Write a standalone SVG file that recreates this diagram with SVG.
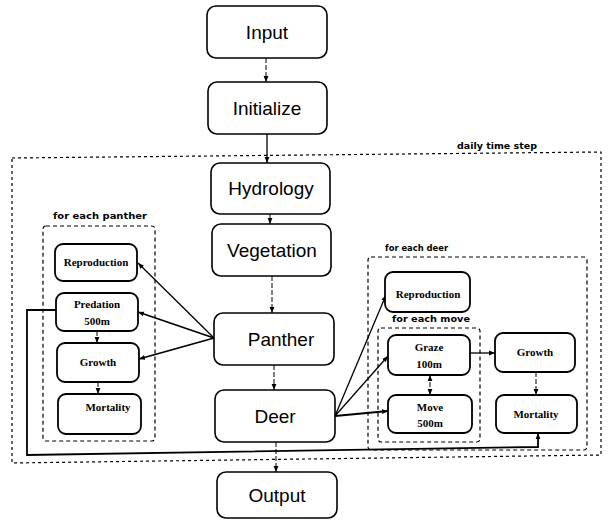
<svg xmlns="http://www.w3.org/2000/svg" width="609" height="521" viewBox="0 0 609 521">
<defs>
<marker id="ah" viewBox="0 0 10 10" refX="10" refY="5" markerWidth="6" markerHeight="6" orient="auto-start-reverse" markerUnits="userSpaceOnUse">
<path d="M0,1 L10,5 L0,9 z" fill="#000"/>
</marker>
</defs>
<style>
.box{fill:#fff;stroke:#000;stroke-width:1.6}
.sbox{fill:#fff;stroke:#000;stroke-width:1.8}
.main{font-family:"Liberation Sans",Arial,sans-serif;font-size:19px;text-anchor:middle}
.small{font-family:"Liberation Serif","Times New Roman",serif;font-size:11px;font-weight:bold;text-anchor:middle}
.lab{font-family:"DejaVu Sans",sans-serif;font-size:9px;font-weight:bold}
.dash{fill:none;stroke:#000;stroke-width:1.2;stroke-dasharray:4 3}
.dot{fill:none;stroke:#000;stroke-width:1.2;stroke-dasharray:3 3}
.ln{fill:none;stroke:#000;stroke-width:1.3}
.th{fill:none;stroke:#000;stroke-width:1.8}
.lt{fill:none;stroke:#000;stroke-width:1;stroke-dasharray:5 2}
</style>
<rect width="609" height="521" fill="#fff"/>

<g id="frames">
<path class="dot" d="M12,158 L601,152 L601,455 L12,463 Z"/>
<text class="lab" x="457" y="149" textLength="80" lengthAdjust="spacingAndGlyphs">daily time step</text>
<rect class="dash" x="43" y="226" width="112" height="215" rx="3"/>
<text class="lab" x="53" y="219" textLength="94" lengthAdjust="spacingAndGlyphs">for each panther</text>
<rect class="dash" x="368" y="257" width="219" height="193" rx="3"/>
<text class="lab" x="385" y="251" textLength="63" lengthAdjust="spacingAndGlyphs">for each deer</text>
<rect class="dash" x="378" y="328" width="102" height="114" rx="3"/>
<text class="lab" x="392" y="322" textLength="78" lengthAdjust="spacingAndGlyphs">for each move</text>
</g>

<g id="connectors">
<path class="lt" d="M266,58 L266,82" marker-end="url(#ah)"/>
<path class="ln" d="M267,134 L267,163" marker-end="url(#ah)"/>
<path class="lt" d="M270,214 L270,224" marker-end="url(#ah)"/>
<path class="lt" d="M272,276 L272,313" marker-end="url(#ah)"/>
<path class="lt" d="M274,365 L274,390" marker-end="url(#ah)"/>
<path class="lt" d="M276,442 L276,472" marker-end="url(#ah)"/>
<path class="ln" d="M214,338 L138,263" marker-end="url(#ah)"/>
<path class="th" d="M214,338 L138,312" marker-end="url(#ah)"/>
<path class="th" d="M214,338 L139,359" marker-end="url(#ah)"/>
<path class="lt" d="M97,331 L97,343" marker-end="url(#ah)"/>
<path class="lt" d="M98,382 L98,394" marker-end="url(#ah)"/>
<path class="ln" d="M335,416 L386,295" marker-end="url(#ah)"/>
<path class="ln" d="M335,416 L388,356" marker-end="url(#ah)"/>
<path class="th" d="M335,416 L388,411" marker-end="url(#ah)"/>
<path class="ln" d="M470,353 L495,353" marker-end="url(#ah)"/>
<path class="lt" d="M430,375 L430,395" marker-start="url(#ah)" marker-end="url(#ah)"/>
<path class="lt" d="M536,372 L536,395" marker-end="url(#ah)"/>
<path class="th" d="M56,310 L27,310 L27,455 L538,447 L538,433" marker-end="url(#ah)"/>
</g>

<g id="input"><rect class="box" x="207" y="6" width="120" height="52" rx="9"/><text class="main" x="267" y="39">Input</text></g>
<g id="initialize"><rect class="box" x="208" y="82" width="119" height="52" rx="9"/><text class="main" x="267" y="115">Initialize</text></g>
<g id="hydrology"><rect class="box" x="211" y="163" width="119" height="51" rx="9"/><text class="main" x="271" y="195">Hydrology</text></g>
<g id="vegetation"><rect class="box" x="212" y="224" width="119" height="52" rx="9"/><text class="main" x="272" y="257">Vegetation</text></g>
<g id="panther"><rect class="box" x="214" y="313" width="120" height="52" rx="9"/><text class="main" x="281" y="346">Panther</text></g>
<g id="deer"><rect class="box" x="215" y="390" width="120" height="52" rx="9"/><text class="main" x="275" y="423">Deer</text></g>
<g id="output"><rect class="box" x="217" y="472" width="120" height="46" rx="9"/><text class="main" x="277" y="502">Output</text></g>

<g id="p-reproduction"><rect class="sbox" x="55" y="244" width="82" height="37" rx="8"/><text class="small" x="96" y="266">Reproduction</text></g>
<g id="p-predation"><rect class="sbox" x="56" y="293" width="82" height="38" rx="8"/><text class="small" x="97" y="308">Predation</text><text class="small" x="97" y="325">500m</text></g>
<g id="p-growth"><rect class="sbox" x="57" y="343" width="82" height="39" rx="8"/><text class="small" x="98" y="366">Growth</text></g>
<g id="p-mortality"><rect class="sbox" x="58" y="394" width="83" height="40" rx="8"/><text class="small" x="108" y="411">Mortality</text></g>

<g id="d-reproduction"><rect class="sbox" x="385" y="272" width="85" height="40" rx="8"/><text class="small" x="428" y="298">Reproduction</text></g>
<g id="d-graze"><rect class="sbox" x="388" y="335" width="82" height="40" rx="8"/><text class="small" x="429" y="351">Graze</text><text class="small" x="429" y="368">100m</text></g>
<g id="d-move"><rect class="sbox" x="388" y="395" width="84" height="38" rx="8"/><text class="small" x="430" y="411">Move</text><text class="small" x="430" y="427">500m</text></g>
<g id="d-growth"><rect class="sbox" x="495" y="333" width="80" height="39" rx="8"/><text class="small" x="535" y="356">Growth</text></g>
<g id="d-mortality"><rect class="sbox" x="496" y="395" width="81" height="38" rx="8"/><text class="small" x="536" y="418">Mortality</text></g>
</svg>
